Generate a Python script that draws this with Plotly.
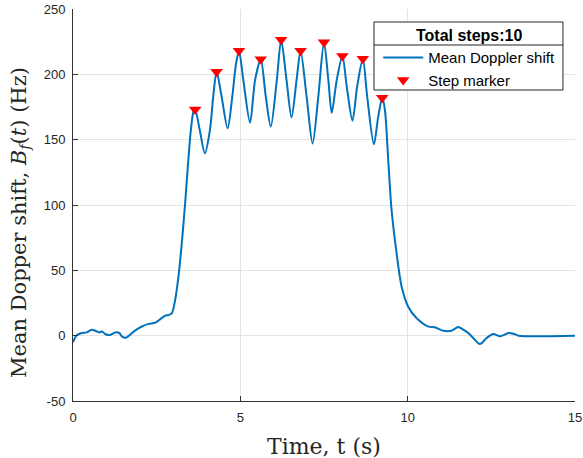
import plotly.graph_objects as go

# ---- data ----
time_s = [0.00, 0.10, 0.26, 0.41, 0.56, 0.71, 0.81, 0.86, 0.96, 1.11, 1.26, 1.39, 1.46, 1.59,
          1.71, 1.86, 2.06, 2.26, 2.46, 2.61, 2.76, 2.85, 2.95, 3.05, 3.15, 3.25, 3.35, 3.43,
          3.52, 3.60, 3.65, 3.79, 3.94, 4.09, 4.19, 4.29, 4.44, 4.62, 4.76, 4.87, 4.96, 5.09,
          5.29, 5.44, 5.61, 5.76, 5.91, 6.09, 6.22, 6.38, 6.53, 6.68, 6.80, 6.98, 7.16, 7.33,
          7.50, 7.63, 7.73, 7.88, 8.05, 8.18, 8.35, 8.49, 8.66, 8.79, 8.99, 9.12, 9.24, 9.32,
          9.42, 9.52, 9.67, 9.82, 10.02, 10.27, 10.62, 10.81, 11.06, 11.31, 11.51, 11.66,
          11.81, 11.96, 12.16, 12.36, 12.56, 12.76, 13.01, 13.16, 13.31, 15.00]
doppler_hz = [-5.0, 0.0, 2.0, 2.5, 4.6, 3.3, 2.5, 3.3, 1.3, 0.5, 2.5, 2.0, -0.5, -1.5,
              0.8, 4.0, 7.0, 9.0, 10.0, 12.7, 15.3, 15.8, 17.0, 27.0, 45.0, 70.7, 101.0, 129.0,
              157.0, 171.4, 173.0, 157.0, 139.5, 157.0, 183.0, 202.0, 183.0, 158.7, 183.0, 208.0, 218.0, 195.6,
              163.0, 195.6, 211.5, 183.0, 160.0, 195.6, 226.5, 195.6, 167.0, 195.6, 218.0, 183.0, 147.0, 183.0,
              224.5, 195.6, 170.6, 195.6, 214.0, 190.5, 164.5, 190.5, 212.0, 183.0, 146.4, 167.6, 182.0, 172.7,
              134.0, 96.0, 63.0, 37.5, 22.0, 13.3, 6.9, 6.4, 3.8, 3.8, 6.6, 4.6,
              2.0, -1.8, -6.4, -1.8, 1.3, -0.5, 2.0, 1.5, 0.0, 0.0]

step_t = [3.65, 4.29, 4.96, 5.61, 6.22, 6.80, 7.50, 8.05, 8.66, 9.24]
step_hz = [173.0, 202.0, 218.0, 211.5, 226.5, 218.0, 224.5, 214.0, 212.0, 182.0]

x_ticks = [0, 5, 10, 15]
y_ticks = [-50, 0, 50, 100, 150, 200, 250]
x_title = "Time, t (s)"
y_title = "Mean Dopper shift, <i>B</i><sub><i>f</i></sub>(<i>t</i>) (Hz)"
legend_title = "Total steps:10"

fig = go.Figure()
fig.add_trace(go.Scatter(
    x=time_s, y=doppler_hz, mode="lines", name="Mean Doppler shift",
    line=dict(color="#0072BD", width=2, shape="spline", smoothing=0.8)))
fig.add_trace(go.Scatter(
    x=step_t, y=step_hz, mode="markers", name="Step marker",
    marker=dict(symbol="triangle-down", size=11, color="#FF0000", line=dict(width=0))))

axis_common = dict(
    showgrid=True, gridcolor="#E3E3E3", gridwidth=1,
    showline=True, linecolor="#333333", linewidth=1,
    ticks="inside", ticklen=5, tickcolor="#333333",
    tickfont=dict(family="Liberation Sans, Arial, sans-serif", size=13, color="#262626"),
    zeroline=False, mirror=False, automargin=False,
)

serif = "DejaVu Serif, Liberation Serif, serif"
sans = "Liberation Sans, Arial, sans-serif"

fig.update_layout(
    width=583, height=458,
    margin=dict(l=73, r=8, t=9, b=57),
    paper_bgcolor="white", plot_bgcolor="white",
    xaxis=dict(range=[0, 15], tickvals=x_ticks, ticktext=[str(v) for v in x_ticks],
               ticklabelstandoff=4, **axis_common),
    yaxis=dict(range=[-50, 250], tickvals=y_ticks, ticktext=[str(v) for v in y_ticks],
               ticklabelstandoff=4, **axis_common),
    legend=dict(
        x=0.608, y=0.971, xanchor="left", yanchor="top",
        bgcolor="rgba(0,0,0,0)", borderwidth=0,
        font=dict(family=sans, size=15, color="black"),
        title=dict(text="<b>" + legend_title + "</b>", side="top center",
                   font=dict(family=sans, size=16, color="black")),
        tracegroupgap=0, itemwidth=40,
    ),
    shapes=[
        dict(type="rect", xref="paper", yref="paper", x0=0.5996, x1=0.976, y0=0.7934, y1=0.9668,
             fillcolor="white", line=dict(color="#262626", width=1), layer="above"),
        dict(type="line", xref="paper", yref="paper", x0=0.5996, x1=0.976, y0=0.9082, y1=0.9082,
             line=dict(color="#262626", width=1), layer="above"),
    ],
    annotations=[
        dict(text=x_title, xref="paper", yref="paper", x=0.5, y=-0.1173,
             xanchor="center", yanchor="middle", showarrow=False,
             font=dict(family=serif, size=22, color="#262626")),
        dict(text=y_title, xref="paper", yref="paper", x=-0.1056, y=0.4566,
             xanchor="center", yanchor="middle", showarrow=False, textangle=-90,
             font=dict(family=serif, size=21, color="#262626")),
    ],
    showlegend=True,
)

fig.write_html("out.html", config={"displayModeBar": False},
               post_script="document.body.style.margin='0';")
